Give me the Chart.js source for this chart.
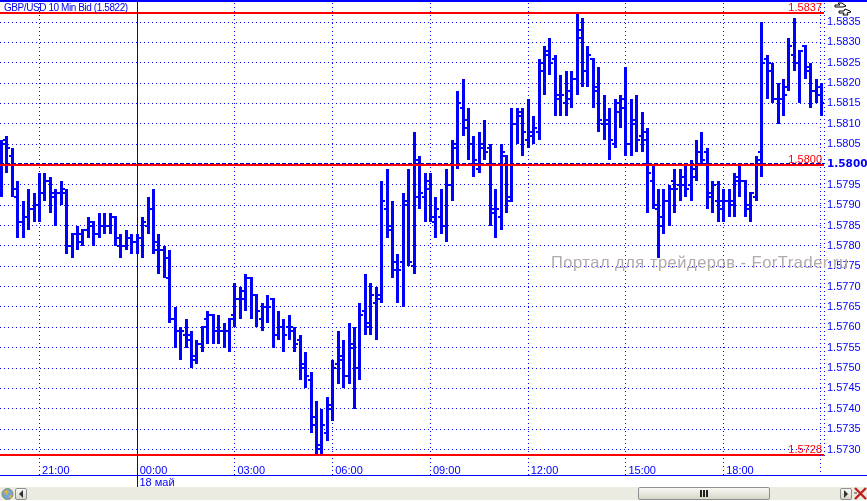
<!DOCTYPE html>
<html>
<head>
<meta charset="utf-8">
<script src="https://cdn.jsdelivr.net/npm/chart.js@4/dist/chart.umd.min.js"></script>
<style>
html,body{margin:0;padding:0;background:#fff;overflow:hidden}
#wrap{position:relative;width:867px;height:501px;overflow:hidden;font-family:"Liberation Sans",Arial,sans-serif}
canvas{position:absolute;left:0;top:0}
.abs{position:absolute}
#title{left:4px;top:2px;font-size:10px;line-height:11px;color:#0000f0;white-space:nowrap;letter-spacing:-.42px}
#wm{left:551px;top:252px;font-size:16.5px;line-height:20px;color:#b3aaaa;white-space:nowrap;letter-spacing:.5px}
#bar{left:0;top:487px;width:867px;height:13px;background:#ecebe2}
.btn{background:linear-gradient(#f8f8f4,#d8d6c8);border:1px solid #8b9090;box-sizing:border-box;border-radius:2px}
</style>
</head>
<body>
<div id="wrap">
<canvas id="c" width="867" height="501"></canvas>
<div id="title" class="abs">GBP/USD 10 Min Bid (1.5822)</div>
<div id="wm" class="abs">Портал для трейдеров - ForTrader.ru</div>
<svg class="abs" style="left:833px;top:2px" width="20" height="14" viewBox="0 0 20 14"><path d="M2 3h5l-2-2h4l4 3-3 1h-8zM6 9h5l1-2 5 2 1 1-4 1 1 2h-5l1-2h-5z" fill="#fff" stroke="#000" stroke-width="1"/></svg>
<div id="bar" class="abs"></div>
<svg class="abs" style="left:1px;top:488px" width="13" height="12" viewBox="0 0 13 12"><circle cx="6.5" cy="6" r="5.5" fill="#6fa7d8" stroke="#8a8a70"/><path d="M3 3l3-1 2 2-2 3-2-1zM8 7l3 0-1 3-2 0z" fill="#d8b040"/></svg>
<div class="abs btn" style="left:15px;top:488px;width:12px;height:12px"></div>
<svg class="abs" style="left:15px;top:488px" width="12" height="12"><path d="M8 2v8l-4-4z" fill="#333"/></svg>
<div class="abs btn" style="left:638px;top:487px;width:132px;height:13px"></div>
<svg class="abs" style="left:699px;top:490px" width="10" height="7"><path d="M1 0h2v7H1zM4 0h2v7H4zM7 0h2v7H7z" fill="#222"/></svg>
<div class="abs btn" style="left:840px;top:488px;width:12px;height:12px"></div>
<svg class="abs" style="left:840px;top:488px" width="12" height="12"><path d="M4 2v8l4-4z" fill="#333"/></svg>
<svg class="abs" style="left:854px;top:487px" width="13" height="13"><path d="M1 1l11 11M12 1L1 12" stroke="#c02018" stroke-width="2.4"/><path d="M0 6h3" stroke="#444"/></svg>
</div>
<script>
const opens=[1.5800,1.5806,1.5802,1.5792,1.5786,1.5787,1.5789,1.5790,1.5793,1.5796,
1.5793,1.5793,1.5793,1.5780,1.5783,1.5781,1.5784,1.5786,1.5783,1.5785,
1.5785,1.5787,1.5780,1.5780,1.5782,1.5781,1.5782,1.5785,1.5789,1.5781,
1.5779,1.5772,1.5762,1.5759,1.5758,1.5757,1.5752,1.5756,1.5762,1.5763,
1.5759,1.5759,1.5759,1.5763,1.5767,1.5769,1.5772,1.5768,1.5762,1.5765,
1.5767,1.5758,1.5760,1.5760,1.5759,1.5757,1.5750,1.5747,1.5736,1.5730,
1.5734,1.5741,1.5751,1.5752,1.5748,1.5756,1.5750,1.5764,1.5760,1.5766,
1.5767,1.5789,1.5784,1.5774,1.5776,1.5790,1.5775,1.5792,1.5792,1.5796,
1.5786,1.5787,1.5785,1.5795,1.5804,1.5814,1.5811,1.5805,1.5799,1.5805,
1.5804,1.5788,1.5787,1.5802,1.5791,1.5810,1.5813,1.5806,1.5807,1.5808,
1.5825,1.5827,1.5826,1.5816,1.5815,1.5816,1.5821,1.5831,1.5823,1.5826,
1.5818,1.5810,1.5811,1.5805,1.5813,1.5814,1.5805,1.5811,1.5807,1.5808,
1.5796,1.5789,1.5787,1.5791,1.5796,1.5795,1.5797,1.5795,1.5797,1.5803,
1.5803,1.5793,1.5791,1.5789,1.5791,1.5790,1.5797,1.5796,1.5789,1.5792,
1.5803,1.5826,1.5823,1.5816,1.5816,1.5819,1.5827,1.5825,1.5829,1.5824,
1.5818,1.5819];
const highs=[1.5806,1.5807,1.5804,1.5796,1.5791,1.5794,1.5793,1.5798,1.5798,1.5797,
1.5794,1.5796,1.5794,1.5783,1.5785,1.5784,1.5787,1.5786,1.5788,1.5788,
1.5788,1.5787,1.5783,1.5784,1.5783,1.5783,1.5787,1.5792,1.5794,1.5783,
1.5780,1.5779,1.5765,1.5760,1.5762,1.5759,1.5757,1.5760,1.5764,1.5763,
1.5763,1.5761,1.5762,1.5771,1.5770,1.5773,1.5772,1.5768,1.5766,1.5768,
1.5767,1.5764,1.5762,1.5763,1.5760,1.5758,1.5754,1.5749,1.5742,1.5740,
1.5743,1.5752,1.5759,1.5757,1.5761,1.5760,1.5766,1.5773,1.5771,1.5770,
1.5796,1.5799,1.5791,1.5778,1.5793,1.5799,1.5808,1.5802,1.5798,1.5798,
1.5792,1.5794,1.5799,1.5806,1.5818,1.5821,1.5814,1.5807,1.5808,1.5811,
1.5805,1.5794,1.5805,1.5802,1.5814,1.5814,1.5814,1.5816,1.5812,1.5826,
1.5829,1.5831,1.5827,1.5822,1.5823,1.5823,1.5837,1.5836,1.5829,1.5826,
1.5824,1.5817,1.5814,1.5816,1.5817,1.5824,1.5816,1.5817,1.5813,1.5809,
1.5800,1.5794,1.5794,1.5795,1.5799,1.5799,1.5800,1.5801,1.5806,1.5808,
1.5804,1.5796,1.5796,1.5794,1.5794,1.5798,1.5800,1.5796,1.5793,1.5802,
1.5835,1.5827,1.5825,1.5820,1.5821,1.5831,1.5836,1.5828,1.5829,1.5825,
1.5821,1.5820];
const lows=[1.5792,1.5798,1.5792,1.5782,1.5782,1.5784,1.5786,1.5786,1.5791,1.5788,
1.5785,1.5790,1.5778,1.5777,1.5779,1.5780,1.5782,1.5780,1.5782,1.5783,
1.5783,1.5780,1.5777,1.5779,1.5778,1.5778,1.5777,1.5783,1.5778,1.5773,
1.5772,1.5761,1.5755,1.5752,1.5755,1.5750,1.5751,1.5754,1.5756,1.5756,
1.5756,1.5755,1.5754,1.5760,1.5762,1.5764,1.5762,1.5760,1.5759,1.5761,
1.5755,1.5757,1.5754,1.5757,1.5754,1.5747,1.5745,1.5734,1.5729,1.5729,
1.5732,1.5737,1.5746,1.5745,1.5746,1.5740,1.5747,1.5758,1.5758,1.5757,
1.5766,1.5782,1.5772,1.5766,1.5765,1.5775,1.5773,1.5789,1.5786,1.5786,
1.5782,1.5783,1.5781,1.5791,1.5799,1.5807,1.5801,1.5797,1.5798,1.5801,
1.5785,1.5782,1.5784,1.5788,1.5791,1.5805,1.5802,1.5804,1.5805,1.5806,
1.5817,1.5822,1.5812,1.5812,1.5812,1.5814,1.5817,1.5819,1.5819,1.5814,
1.5808,1.5806,1.5801,1.5804,1.5809,1.5802,1.5802,1.5803,1.5803,1.5788,
1.5789,1.5777,1.5783,1.5785,1.5788,1.5791,1.5792,1.5791,1.5796,1.5800,
1.5789,1.5788,1.5786,1.5786,1.5787,1.5787,1.5792,1.5787,1.5786,1.5791,
1.5797,1.5816,1.5815,1.5810,1.5812,1.5818,1.5823,1.5815,1.5821,1.5814,
1.5815,1.5812];
const closes=[1.5805,1.5804,1.5794,1.5786,1.5787,1.5789,1.5790,1.5793,1.5796,1.5792,
1.5793,1.5794,1.5780,1.5783,1.5783,1.5784,1.5785,1.5783,1.5785,1.5785,
1.5787,1.5782,1.5780,1.5782,1.5781,1.5782,1.5786,1.5789,1.5779,1.5779,
1.5777,1.5762,1.5759,1.5759,1.5758,1.5753,1.5756,1.5760,1.5763,1.5759,
1.5759,1.5759,1.5762,1.5767,1.5767,1.5772,1.5768,1.5764,1.5765,1.5765,
1.5758,1.5760,1.5758,1.5760,1.5756,1.5751,1.5748,1.5738,1.5731,1.5736,
1.5740,1.5750,1.5753,1.5748,1.5755,1.5750,1.5763,1.5761,1.5768,1.5768,
1.5791,1.5785,1.5776,1.5774,1.5791,1.5776,1.5801,1.5793,1.5794,1.5787,
1.5789,1.5785,1.5795,1.5805,1.5815,1.5809,1.5805,1.5801,1.5804,1.5803,
1.5789,1.5789,1.5803,1.5792,1.5810,1.5812,1.5808,1.5808,1.5809,1.5823,
1.5828,1.5825,1.5817,1.5817,1.5818,1.5821,1.5833,1.5823,1.5827,1.5819,
1.5811,1.5810,1.5806,1.5815,1.5816,1.5805,1.5810,1.5806,1.5806,1.5798,
1.5790,1.5785,1.5791,1.5794,1.5794,1.5795,1.5794,1.5799,1.5803,1.5801,
1.5792,1.5795,1.5791,1.5791,1.5791,1.5796,1.5796,1.5790,1.5793,1.5801,
1.5825,1.5825,1.5816,1.5816,1.5817,1.5829,1.5825,1.5828,1.5823,1.5818,
1.5817,1.5815];
const priceTicks=[1.5730,1.5735,1.5740,1.5745,1.5750,1.5755,1.5760,1.5765,1.5770,1.5775,1.5780,1.5785,1.5790,1.5795,1.5800,1.5805,1.5810,1.5815,1.5820,1.5825,1.5830,1.5835];
const timeTickBars=[7,25,43,61,79,97,115,133];
const timeLabels=['21:00','00:00','03:00','06:00','09:00','12:00','15:00','18:00'];
const levels=[1.58372,1.58,1.57286];
const levelLabels=['1.5837','1.5800','1.5728'];
const bidLine=1.58003;
const midnightBar=25;
const dateLabel='18 май';

const BLUE='#0000ff', TEXT='#0000ff', RED='#ff0000';
const fontName='"Liberation Sans", Arial, sans-serif';
const X_MIN=-0.276, X_MAX=151.47;

function tickImg(side){
  const c=document.createElement('canvas');c.width=7;c.height=2;
  const g=c.getContext('2d');g.fillStyle=BLUE;
  g.fillRect(side==='open'?0:2,0,5,2);
  return c;
}
const idx=opens.map((_,i)=>i);
const lineAt=(v)=>[{x:X_MIN,y:v},{x:X_MAX,y:v}];
const noPad=(s)=>{s.paddingLeft=0;s.paddingRight=0;s.paddingTop=0;s.paddingBottom=0;};

const snap={
  id:'snap',
  afterDatasetsUpdate(ch){
    ch.data.datasets.forEach((ds,i)=>{
      const m=ch.getDatasetMeta(i);
      m.data.forEach(el=>{
        if(ds.ohlc) el.x=Math.floor(el.x)+0.5;
        if(ds.halfPixel) el.y=Math.floor(el.y)+0.5; else el.y=Math.round(el.y);
        if(el.base!==undefined) el.base=Math.round(el.base);
      });
    });
  }
};
const frame={
  id:'frame',
  afterDraw(ch){
    const g=ch.ctx,xs=ch.scales.x,ys=ch.scales.y;
    g.save();
    g.fillStyle=BLUE;
    g.fillRect(0,0,867,2);
    g.fillRect(0,475,867,1);
    const mx=Math.floor(xs.getPixelForValue(midnightBar))+0.5;
    g.strokeStyle='#0000e6';g.lineWidth=1;
    g.beginPath();g.moveTo(mx,2);g.lineTo(mx,487);g.stroke();
    g.strokeStyle=BLUE;g.setLineDash([1,3]);
    g.beginPath();g.moveTo(820.5,3);g.lineTo(820.5,475);g.moveTo(824.5,3);g.lineTo(824.5,457);g.stroke();
    g.setLineDash([]);
    g.font='11px '+fontName;g.textBaseline='alphabetic';
    g.fillStyle=TEXT;g.textAlign='left';
    g.fillText(dateLabel,mx+2,486);
    g.fillStyle=RED;g.textAlign='right';
    levels.forEach((v,i)=>{
      g.fillText(levelLabels[i],822,Math.round(ys.getPixelForValue(v))-2);
    });
    g.restore();
  }
};

new Chart(document.getElementById('c'),{
  data:{datasets:[
    {type:'line',data:lineAt(levels[0]),borderColor:RED,borderWidth:2,pointRadius:0,order:1},
    {type:'line',data:lineAt(levels[1]),borderColor:RED,borderWidth:2,pointRadius:0,order:1},
    {type:'line',data:lineAt(levels[2]),borderColor:RED,borderWidth:2,pointRadius:0,order:1},
    {type:'line',data:lineAt(bidLine),borderColor:'#0000c0',borderWidth:1,borderDash:[4,2],pointRadius:0,order:2,halfPixel:true},
    {type:'scatter',ohlc:true,data:idx.map(i=>({x:i,y:opens[i]})),pointStyle:tickImg('open'),pointRadius:3,order:3},
    {type:'scatter',ohlc:true,data:idx.map(i=>({x:i,y:closes[i]})),pointStyle:tickImg('close'),pointRadius:3,order:3},
    {type:'bar',ohlc:true,data:idx.map(i=>({x:i,y:[lows[i],highs[i]]})),backgroundColor:BLUE,borderWidth:0,barThickness:3,inflateAmount:0,order:4}
  ]},
  options:{
    responsive:false,animation:false,devicePixelRatio:1,
    layout:{autoPadding:false,padding:{left:0,right:0,top:3,bottom:0}},
    plugins:{legend:{display:false},tooltip:{enabled:false},title:{display:false}},
    scales:{
      x:{type:'linear',offset:false,min:X_MIN,max:X_MAX,position:'bottom',
        afterBuildTicks(s){s.ticks=timeTickBars.map(v=>({value:v}));},
        afterFit(s){s.height=43;noPad(s);},
        grid:{offset:false,color:BLUE,lineWidth:1,tickColor:BLUE,tickLength:17,tickBorderDash:[1,3],drawTicks:true},
        border:{display:false,dash:[1,3]},
        ticks:{autoSkip:false,maxRotation:0,minRotation:0,align:'start',labelOffset:2.5,padding:-11,color:TEXT,
          font:{family:fontName,size:11},
          callback(v){const k=timeTickBars.indexOf(v);return k>=0?timeLabels[k]:'';}}
      },
      y:{type:'linear',position:'right',min:1.572791,max:1.583967,
        afterBuildTicks(s){s.ticks=priceTicks.map(v=>({value:v}));},
        afterFit(s){s.width=43;noPad(s);},
        grid:{color:BLUE,lineWidth:1,drawTicks:false},
        border:{display:false,dash:[1,3]},
        ticks:{autoSkip:false,padding:3,color:TEXT,
          font(ctx){const bold=ctx.tick&&Math.abs(ctx.tick.value-1.58)<1e-6;
            return {family:bold?'"DejaVu Sans", sans-serif':fontName,size:bold?10.5:11,weight:bold?'bold':'normal'};},
          callback(v){return v.toFixed(4);}}
      }
    }
  },
  plugins:[snap,frame]
});
</script>
</body>
</html>
